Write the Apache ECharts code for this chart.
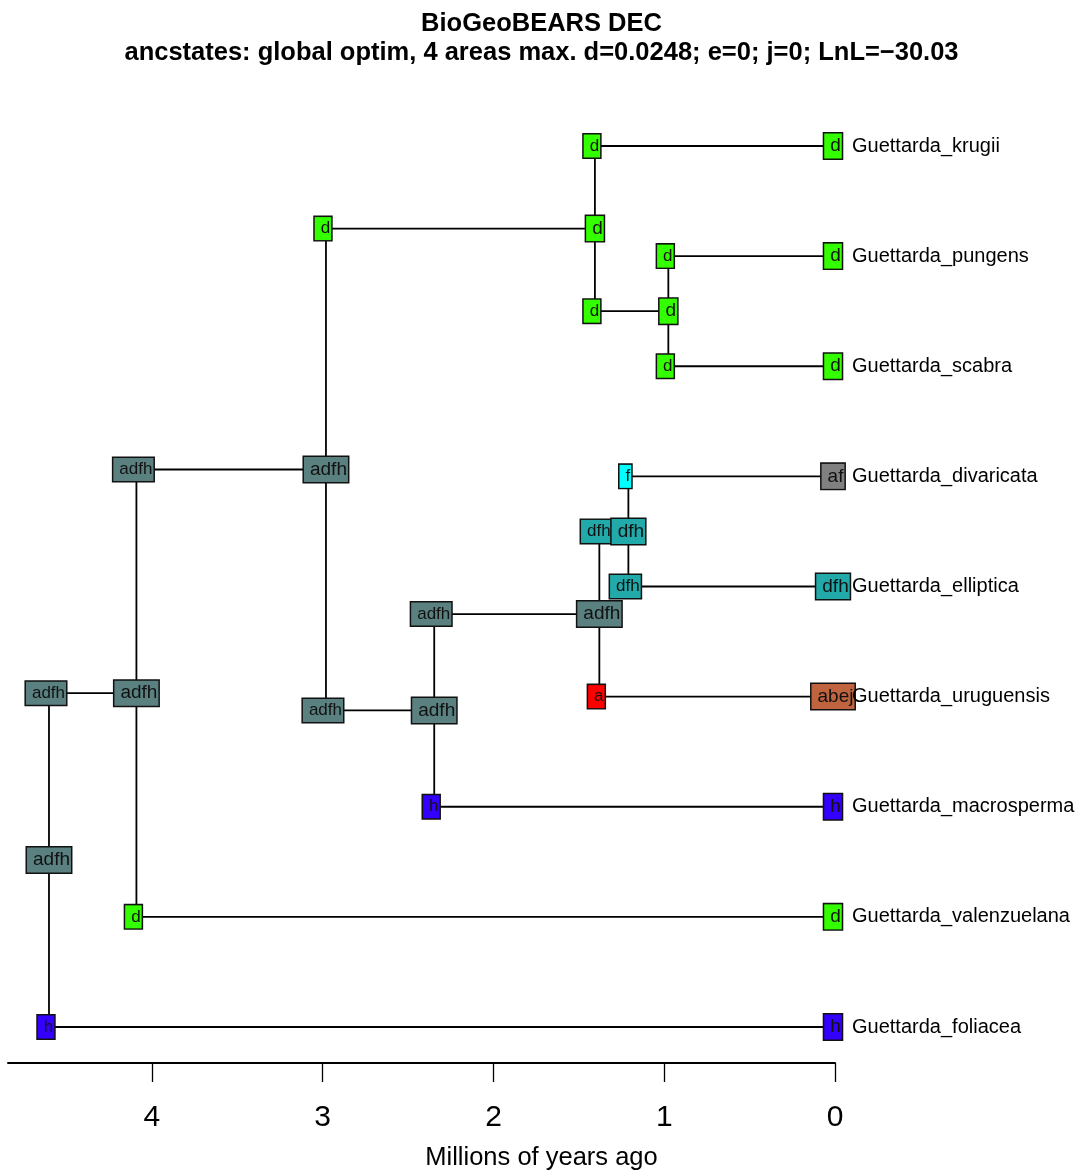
<!DOCTYPE html>
<html>
<head>
<meta charset="utf-8">
<script src="https://cdn.jsdelivr.net/npm/echarts@6/dist/echarts.min.js"></script>
<style>
  html, body { margin: 0; padding: 0; background: #fff; }
  #chart { width: 1083px; height: 1175px; }
</style>
</head>
<body>
<div id="chart"></div>
<script>
// Tips, top to bottom
const tipNames = ['Guettarda_krugii', 'Guettarda_pungens', 'Guettarda_scabra',
  'Guettarda_divaricata', 'Guettarda_elliptica', 'Guettarda_uruguensis',
  'Guettarda_macrosperma', 'Guettarda_valenzuelana', 'Guettarda_foliacea'];
const tipStates = ['d', 'd', 'd', 'af', 'dfh', 'abej', 'h', 'd', 'h'];

// Internal nodes: children ('t' = tip index, 'n' = node index), ages (Ma), states
const nodeChildren = [['n1', 't8'], ['n2', 't7'], ['n3', 'n5'], ['t0', 'n4'],
  ['t1', 't2'], ['n6', 't6'], ['n7', 't5'], ['t3', 't4']];
const nodeAges = [4.603, 4.091, 2.981, 1.406, 0.976, 2.347, 1.380, 1.210];
const nodeStates = ['adfh', 'adfh', 'adfh', 'd', 'd', 'adfh', 'adfh', 'dfh'];
// Split states on the upper / lower descendant branch just after each node
const cornerStates = [['adfh', 'h'], ['adfh', 'd'], ['d', 'adfh'], ['d', 'd'],
  ['d', 'd'], ['adfh', 'h'], ['dfh', 'a'], ['f', 'dfh']];

const stateColors = {
  d: '#33FF00', adfh: '#5B8080', dfh: '#22AAAA', f: '#00FFFF',
  a: '#FF0000', h: '#3300FF', af: '#808080', abej: '#C0643F'
};
const tickValues = [0, 1, 2, 3, 4];
const FONT = '"Liberation Sans", Arial, Helvetica, sans-serif';

// Vertical position of each node = mean of its children's positions
function posOf(ref) {
  const i = +ref.slice(1);
  if (ref[0] === 't') return { x: 0, y: i };
  const ys = nodeChildren[i].map(c => posOf(c).y);
  return { x: nodeAges[i], y: (ys[0] + ys[1]) / 2 };
}

const segments = [];
const nodePts = [];
const cornerPts = [];
nodeChildren.forEach((ch, i) => {
  const p = posOf('n' + i);
  const a = posOf(ch[0]), b = posOf(ch[1]);
  segments.push([p.x, a.y, p.x, b.y]);
  segments.push([p.x, a.y, a.x, a.y]);
  segments.push([p.x, b.y, b.x, b.y]);
  nodePts.push({ value: [p.x, p.y], st: nodeStates[i] });
  cornerPts.push({ value: [p.x, a.y], st: cornerStates[i][0] });
  cornerPts.push({ value: [p.x, b.y], st: cornerStates[i][1] });
});
const tipPts = tipStates.map((s, i) => ({ value: [0, i], st: s }));

function boxItems(pts) {
  return pts.map(d => ({
    value: d.value,
    st: d.st,
    label: { backgroundColor: stateColors[d.st] }
  }));
}
function boxLabel(fs, offset) {
  return {
    show: true,
    position: 'inside',
    offset: offset || [0, 0],
    formatter: p => p.data.st,
    fontFamily: FONT,
    fontSize: fs,
    lineHeight: fs + 1,
    color: '#111',
    borderColor: '#111',
    borderWidth: 1.5,
    padding: [4, 1, 1, 6]
  };
}
const opaque = { opacity: 1 };

const chart = echarts.init(document.getElementById('chart'), null, { renderer: 'canvas' });
chart.setOption({
  backgroundColor: '#fff',
  animation: false,
  title: {
    text: 'BioGeoBEARS DEC\nancstates: global optim, 4 areas max. d=0.0248; e=0; j=0; LnL=\u221230.03',
    left: 'center',
    top: 4,
    textStyle: { fontFamily: FONT, fontSize: 25.5, fontWeight: 'bold', color: '#000', lineHeight: 29, align: 'center' }
  },
  grid: { left: 8, right: 248, top: 146, bottom: 112 },
  xAxis: {
    type: 'value',
    position: 'bottom',
    inverse: true,
    min: 0,
    max: 4.843,
    interval: 1,
    axisLine: { show: true, onZero: false, lineStyle: { color: '#000', width: 2 } },
    axisTick: { show: true, length: 19, inside: false, customValues: tickValues, lineStyle: { color: '#000', width: 1.3 } },
    axisLabel: { customValues: tickValues, margin: 40, fontFamily: FONT, fontSize: 30, color: '#000' },
    splitLine: { show: false }
  },
  yAxis: { type: 'value', inverse: true, min: 0, max: 8.327, show: false },
  graphic: [{
    type: 'text',
    left: 'center',
    top: 1145,
    style: { text: 'Millions of years ago', font: '25.5px ' + FONT, fill: '#000' }
  }],
  series: [
    {
      name: 'branches',
      type: 'custom',
      silent: true,
      z: 1,
      clip: false,
      data: segments,
      encode: { x: [0, 2], y: [1, 3] },
      renderItem: (params, api) => {
        const p1 = api.coord([api.value(0), api.value(1)]);
        const p2 = api.coord([api.value(2), api.value(3)]);
        return {
          type: 'line',
          shape: { x1: p1[0], y1: p1[1], x2: p2[0], y2: p2[1] },
          style: { stroke: '#000', lineWidth: 1.8 }
        };
      }
    },
    {
      name: 'corners', type: 'scatter', symbolSize: 0, z: 3, silent: true, clip: false,
      itemStyle: opaque, data: boxItems(cornerPts), label: boxLabel(17, [-3, 0])
    },
    {
      name: 'nodes', type: 'scatter', symbolSize: 0, z: 4, silent: true, clip: false,
      itemStyle: opaque, data: boxItems(nodePts), label: boxLabel(19)
    },
    {
      name: 'tips', type: 'scatter', symbolSize: 0, z: 4, silent: true, clip: false,
      itemStyle: opaque, data: boxItems(tipPts), label: boxLabel(19, [-2, 0])
    },
    {
      name: 'tipNames', type: 'scatter', symbolSize: 0, z: 5, silent: true, clip: false,
      itemStyle: opaque,
      data: tipNames.map((n, i) => ({ value: [0, i], name: n })),
      label: {
        show: true, position: 'right', distance: 17,
        formatter: p => p.name,
        fontFamily: FONT, fontSize: 20, color: '#000'
      }
    }
  ]
});
</script>
</body>
</html>
